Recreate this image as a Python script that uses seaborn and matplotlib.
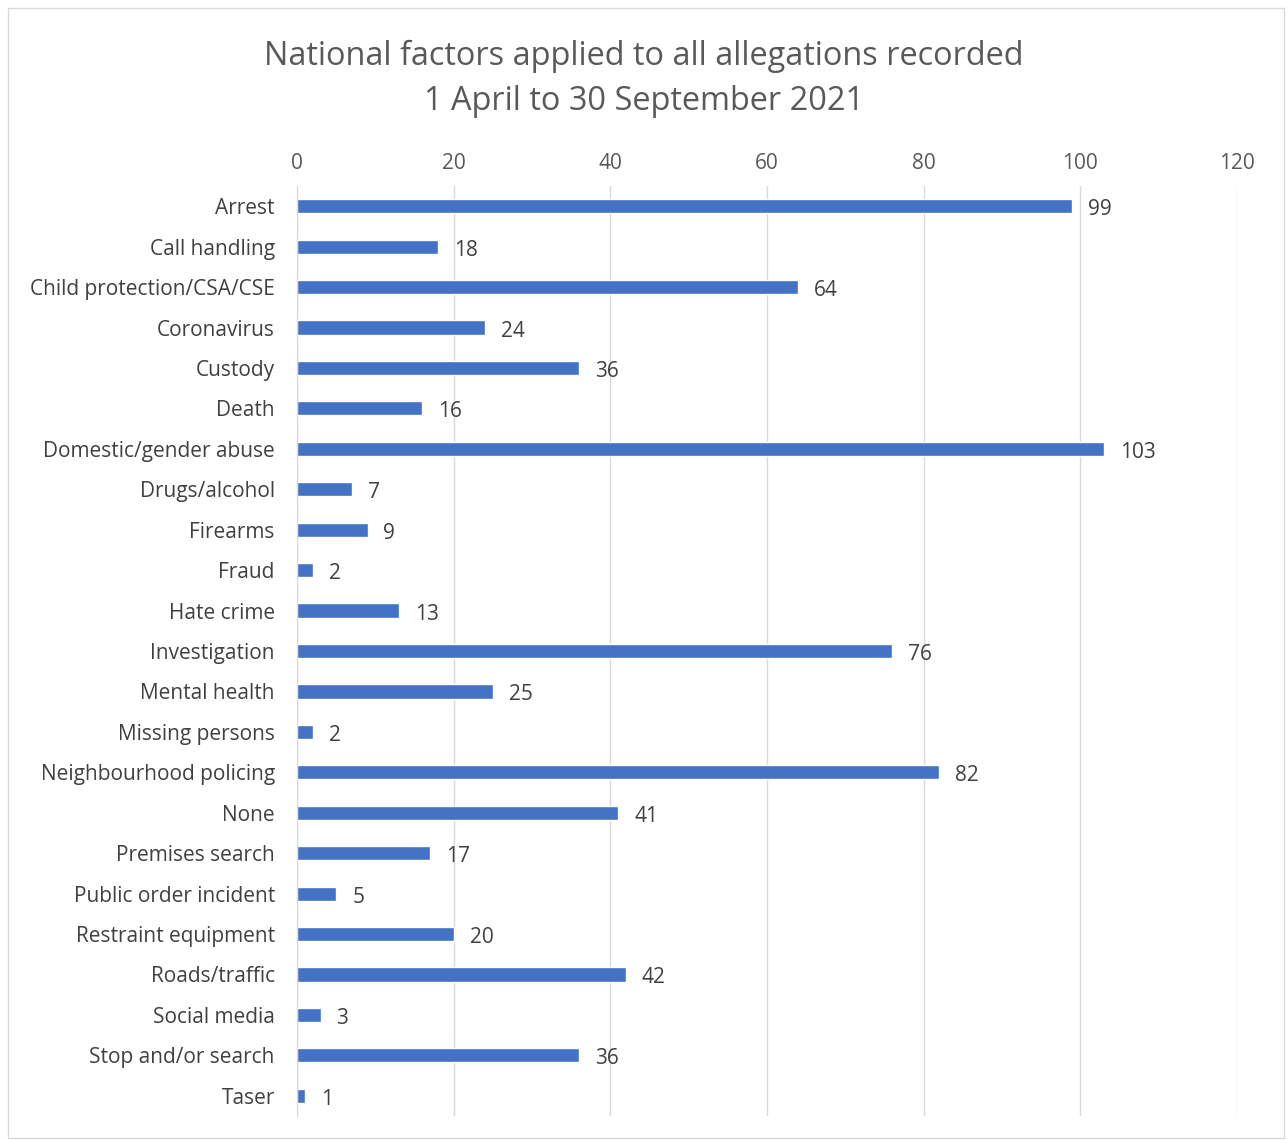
import numpy as np
import pandas as pd
import matplotlib
matplotlib.use("Agg")
import matplotlib.pyplot as plt
import seaborn as sns
from matplotlib.patches import Rectangle

categories = ["Arrest", "Call handling", "Child protection/CSA/CSE", "Coronavirus",
              "Custody", "Death", "Domestic/gender abuse", "Drugs/alcohol", "Firearms",
              "Fraud", "Hate crime", "Investigation", "Mental health", "Missing persons",
              "Neighbourhood policing", "None", "Premises search", "Public order incident",
              "Restraint equipment", "Roads/traffic", "Social media", "Stop and/or search",
              "Taser"]
values = [99, 18, 64, 24, 36, 16, 103, 7, 9, 2, 13, 76, 25, 2, 82, 41, 17, 5, 20, 42, 3, 36, 1]
x_ticks = [0, 20, 40, 60, 80, 100, 120]

df = pd.DataFrame({"factor": categories, "count": values})

sns.set_style("white")
plt.rcParams['font.family'] = ['Open Sans', 'DejaVu Sans']

fig = plt.figure(figsize=(12.88, 11.4), dpi=100)
ax = fig.add_axes([0.2306, 0.0211, 0.7298, 0.8157])

sns.barplot(data=df, x="count", y="factor", color="#4472C4", saturation=1,
            width=0.35, ax=ax, orient="h")

ax.set_xlim(0, 120)
ax.set_ylim(len(categories) - 0.5, -0.5)
ax.set_xticks(x_ticks)
ax.xaxis.tick_top()
ax.tick_params(axis="x", length=0, labelsize=15, labelcolor="#595959", pad=9)
ax.tick_params(axis="y", length=0, labelsize=15, labelcolor="#404040", pad=16)
ax.grid(axis="x", color="#D9D9D9", linewidth=1)
ax.set_axisbelow(True)
for s in ["top", "right", "bottom"]:
    ax.spines[s].set_visible(False)
ax.spines["left"].set_color("#D9D9D9")
ax.set_xlabel("")
ax.set_ylabel("")

for i, v in enumerate(values):
    ax.annotate(str(v), xy=(v, i), xytext=(11.5, -2.5), textcoords="offset points",
                va="center", ha="left", fontsize=15, color="#404040")

fig.text(0.5, 0.9505, "National factors applied to all allegations recorded",
         ha="center", va="center", fontsize=23.4, color="#595959")
fig.text(0.5, 0.911, "1 April to 30 September 2021",
         ha="center", va="center", fontsize=23.4, color="#595959")

fig.patches.append(Rectangle((0.006, 0.002), 0.991, 0.991, transform=fig.transFigure,
                             fill=False, edgecolor="#D9D9D9", linewidth=1))

fig.savefig("out.png", dpi=100)
